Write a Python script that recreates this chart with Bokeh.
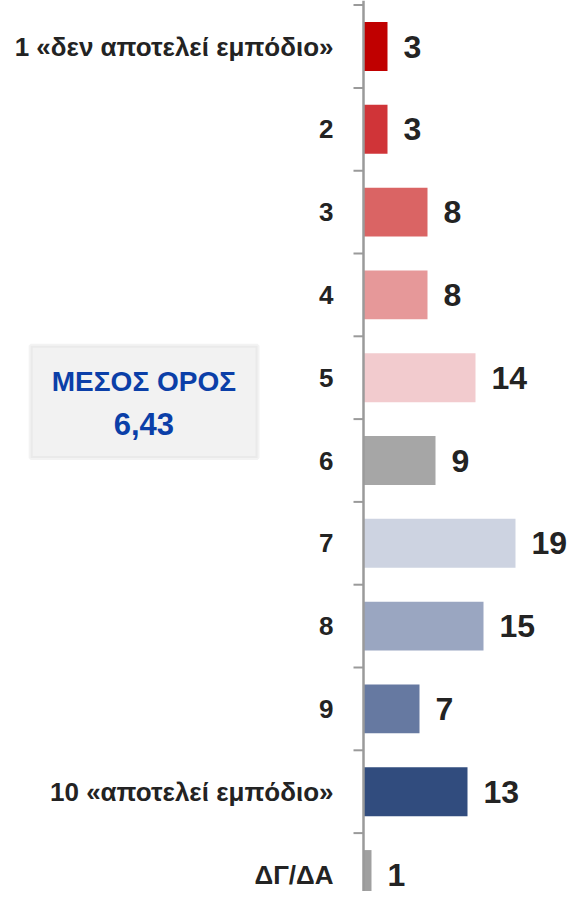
import math
from bokeh.plotting import figure
from bokeh.models import Range1d, Span, BoxAnnotation, Label, ColumnDataSource
from bokeh.core.properties import value
from bokeh.embed import file_html
from bokeh.resources import INLINE

categories = ["1 «δεν αποτελεί εμπόδιο»", "2", "3", "4", "5", "6", "7", "8", "9",
              "10 «αποτελεί εμπόδιο»", "ΔΓ/ΔΑ"]
values = [3, 3, 8, 8, 14, 9, 19, 15, 7, 13, 1]
colors = ["#C00000", "#D03438", "#DA6464", "#E69899", "#F2CBCE", "#A6A6A6",
          "#CDD3E1", "#9AA6C1", "#6679A1", "#314C7E", "#A0A0A0"]
value_labels = [str(v) for v in values]
mean_title = "ΜΕΣΟΣ ΟΡΟΣ"
mean_value = "6,43"

FONT = "Liberation Sans"
TEXT_COLOR = "#232323"
AXIS_COLOR = "#9A9A9A"

n = len(categories)
pos = list(range(n))
boundaries = [i - 0.5 for i in pos]

W, H = 569, 891
AXIS_X, PX_PER_UNIT = 363, 8.0
TOP_C, STEP = 46, 82.8

p = figure(width=W, height=H,
           x_range=Range1d(-AXIS_X / PX_PER_UNIT, (W - AXIS_X) / PX_PER_UNIT),
           y_range=Range1d((H - TOP_C) / STEP, -TOP_C / STEP),
           output_backend="svg", toolbar_location=None,
           x_axis_type=None, y_axis_type=None, min_border=0)
p.outline_line_color = None
p.background_fill_color = "white"

src = ColumnDataSource(dict(y=pos, v=values, c=colors, lab=value_labels, cat=categories))

p.hbar(y="y", left=0, right="v", height=0.59, fill_color="c", line_color=None, source=src)

p.add_layout(Span(location=0, dimension="height", line_color=AXIS_COLOR, line_width=2.5))
p.ray(x=[0] * n, y=boundaries, length=10, length_units="screen", angle=math.pi,
      line_color=AXIS_COLOR, line_width=2)

p.text(x="v", y="y", text="lab", x_offset=16, source=src,
       text_font=value(FONT), text_font_style="bold", text_font_size="32px",
       text_color=TEXT_COLOR, text_align="left", text_baseline="middle")

p.text(x=0, y="y", text="cat", x_offset=-30, source=src,
       text_font=value(FONT), text_font_style="bold", text_font_size="26px",
       text_color=TEXT_COLOR, text_align="right", text_baseline="middle")

p.add_layout(BoxAnnotation(left=-41.6, right=-13.25, top=3.615, bottom=4.97,
                           fill_color="#F2F2F2", fill_alpha=1.0,
                           line_color="#D6D6D6", line_width=4, level="underlay"))
p.add_layout(Label(x=-27.45, y=4.04, text=mean_title, text_align="center",
                   text_baseline="middle", text_font=FONT, text_font_style="bold",
                   text_font_size="28px", text_color="#0B3FA8"))
p.add_layout(Label(x=-27.45, y=4.56, text=mean_value, text_align="center",
                   text_baseline="middle", text_font=FONT, text_font_style="bold",
                   text_font_size="31px", text_color="#0B3FA8"))

open("out.html", "w").write(file_html(p, INLINE))
